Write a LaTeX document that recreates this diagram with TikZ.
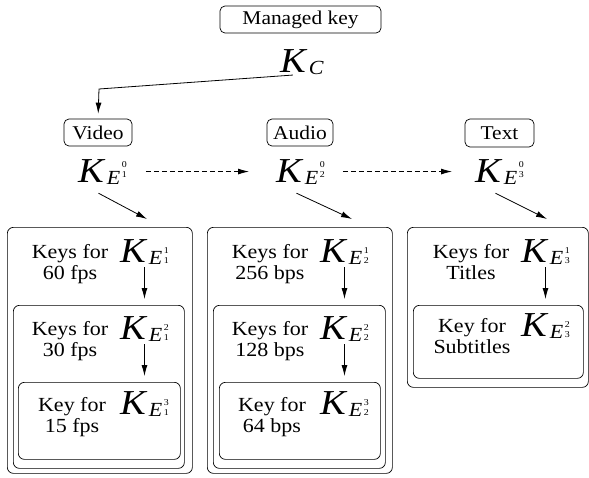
\documentclass[tikz,border=0pt]{standalone}
\usepackage{fontspec}
\setmainfont{Liberation Serif}[FakeStretch=1.1]
\usetikzlibrary{arrows.meta,calc}
% K with subscript E and stacked digits: #1 sub digit, #2 sup digit, #3 sub raise, #4 sup raise
\newcommand\KE[4]{{\itshape K}\kern3pt\raisebox{-2pt}{\fontsize{20}{20}\selectfont\itshape E\kern1.5pt\upshape\makebox[0pt][l]{\raisebox{#4}{\fontsize{9}{9}\selectfont #2}}\raisebox{#3}{\fontsize{9}{9}\selectfont #1}}}
\newcommand\KT[2]{\KE{#1}{#2}{7pt}{17pt}}
\newcommand\KB[2]{\KE{#1}{#2}{1pt}{11pt}}
\tikzset{
 lbl/.style={draw, rounded corners=5pt, font=\fontsize{19.5}{20}\selectfont, inner sep=0pt, line width=0.7pt},
 kk/.style={inner sep=0pt, anchor=base west, font=\fontsize{35}{38}\selectfont},
 txt/.style={align=center, font=\fontsize{20}{21}\selectfont, inner sep=0pt, anchor=base},
 grp/.style={draw, rounded corners=6pt, anchor=north west, inner sep=0pt, line width=0.7pt},
 arr/.style={-{Latex[length=11pt,width=6pt]}, line width=0.8pt},
 darr/.style={arr, dash pattern=on 5pt off 3pt},
}
\begin{document}
\begin{tikzpicture}[x=1pt,y=-1pt]
\useasboundingbox (0,0) rectangle (589,477);
% group boxes
\node[grp, minimum width=185pt, minimum height=246pt] (o1) at (7,227) {};
\node[grp, minimum width=171pt, minimum height=163pt] (m1) at (13,305) {};
\node[grp, minimum width=162pt, minimum height=77pt] (i1) at (18,382) {};
\node[grp, minimum width=185pt, minimum height=246pt] (o2) at (207,227) {};
\node[grp, minimum width=172pt, minimum height=163pt] (m2) at (213,305) {};
\node[grp, minimum width=161pt, minimum height=77pt] (i2) at (219,382) {};
\node[grp, minimum width=181pt, minimum height=160pt] (o3) at (407,227) {};
\node[grp, minimum width=170pt, minimum height=73pt] (i3) at (413,305) {};
% labels
\node[lbl, minimum width=161pt, minimum height=27pt] (mk) at (300.5,19.5) {Managed key};
\node[lbl, minimum width=68pt, minimum height=27pt] (video) at (98,132.5) {Video};
\node[lbl, minimum width=66pt, minimum height=27pt] (audio) at (300,132.5) {Audio};
\node[lbl, minimum width=69pt, minimum height=28pt] (textl) at (499.5,133) {Text};
% keys
\node[kk] (kc) at (280,72) {{\itshape K}\kern3pt\raisebox{-2pt}{\fontsize{20}{20}\selectfont\itshape C}};
\node[kk] (k1) at (78,182) {\KT{1}{0}};
\node[kk] (k2) at (276,182) {\KT{2}{0}};
\node[kk] (k3) at (475,182) {\KT{3}{0}};
\node[kk] (k11) at (120,262) {\KB{1}{1}};
\node[kk] (k12) at (120,339) {\KB{1}{2}};
\node[kk] (k13) at (120,414) {\KB{1}{3}};
\node[kk] (k21) at (320,262) {\KB{2}{1}};
\node[kk] (k22) at (320,339) {\KB{2}{2}};
\node[kk] (k23) at (320,414) {\KB{2}{3}};
\node[kk] (k31) at (521,262) {\KB{3}{1}};
\node[kk] (k32) at (521,336) {\KB{3}{2}};
% texts (anchor base = baseline of last line)
\node[txt] (t11) at (70,279) {Keys for\\60 fps};
\node[txt] (t12) at (70,356) {Keys for\\30 fps};
\node[txt] (t13) at (72,432) {Key for\\15 fps};
\node[txt] (t21) at (270,279) {Keys for\\256 bps};
\node[txt] (t22) at (270,356) {Keys for\\128 bps};
\node[txt] (t23) at (272,432) {Key for\\64 bps};
\node[txt] (t31) at (471,279) {Keys for\\Titles};
\node[txt] (t32) at (472,353) {Key for\\Subtitles};
% connectors
\coordinate (bend) at (99,89);
\draw[arr, shorten <=9pt, shorten >=5pt] (kc.south) -- (bend) -- (video.north);
\draw[darr, shorten <=19pt, shorten >=27pt] (k1.east) -- (k2.west);
\draw[darr, shorten <=18pt, shorten >=23pt] (k2.east) -- (k3.west);
\coordinate (d1) at (147,219);
\coordinate (d2) at (352,219);
\coordinate (d3) at (547,219);
\draw[arr] ($(k1.south)+(-4,9)$) -- (d1);
\draw[arr] ($(k2.south)+(-4,9)$) -- (d2);
\draw[arr] ($(k3.south)+(-4,9)$) -- (d3);
\draw[arr, shorten <=3pt, shorten >=6pt] (k11.south) -- (k11.south |- m1.north);
\draw[arr, shorten <=3pt, shorten >=6pt] (k12.south) -- (k12.south |- i1.north);
\draw[arr, shorten <=3pt, shorten >=6pt] (k21.south) -- (k21.south |- m2.north);
\draw[arr, shorten <=3pt, shorten >=6pt] (k22.south) -- (k22.south |- i2.north);
\draw[arr, shorten <=3pt, shorten >=6pt] (k31.south) -- (k31.south |- i3.north);
\end{tikzpicture}
\end{document}
